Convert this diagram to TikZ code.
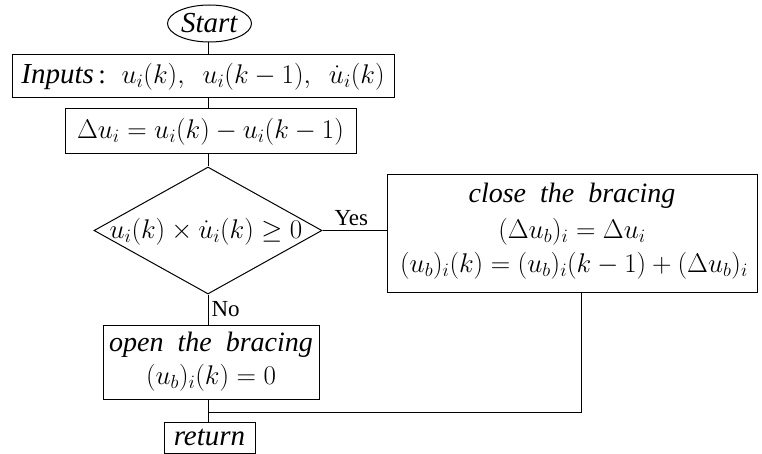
\RequirePackage{fix-cm}
\documentclass[tikz,border=0pt]{standalone}
\usepackage{fontspec}
\setmainfont{Liberation Serif}
\usetikzlibrary{shapes.geometric}
\newcommand{\tx}[1]{{\fontsize{29}{34}\selectfont\textit{#1}}}
\newcommand{\txs}[1]{{\fontsize{28}{33}\selectfont\textit{#1}}}
\begin{document}
\begin{tikzpicture}[x=1pt,y=-1pt,
  every node/.style={font=\fontsize{27}{32}\selectfont},
  box/.style={draw,line width=1pt,inner sep=0pt,align=center},
  ln/.style={line width=1pt},
  lbl/.style={font=\fontsize{23}{27}\selectfont,inner sep=0pt}]
\useasboundingbox (0,0) rectangle (762,454);
\coordinate (ax) at (208,0);
\node[box,ellipse,minimum width=84pt,minimum height=37pt] (start) at (209.5,23.5) {\tx{Start}};
\node[box,minimum width=382pt,minimum height=43pt] (inputs) at (203,76.5)
  {\tx{Inputs}\,: \ $u_i(k),\ \ u_i(k-1),\ \ \dot u_i(k)$};
\node[box,minimum width=291pt,minimum height=45pt] (delta) at (210.5,131.5)
  {$\Delta u_i = u_i(k) - u_i(k-1)$};
\node[draw,line width=1pt,diamond,minimum width=228pt,minimum height=127pt,inner sep=0pt] (dec) at (208,230.5) {};
\node[inner sep=0pt] (dectext) at (206,232) {$u_i(k)\times\dot u_i(k)\geq 0$};
\node[box,minimum width=370pt,minimum height=117pt] (close) at (572,233.5) {};
\node[inner sep=0pt] (c1) at (572,196) {\txs{close\ \ the\ \ bracing}};
\node[inner sep=0pt] (c2) at (572,232) {$(\Delta u_b)_i = \Delta u_i$};
\node[inner sep=0pt] (c3) at (574,266) {$(u_b)_i(k) = (u_b)_i(k-1) + (\Delta u_b)_i$};
\node[box,minimum width=216pt,minimum height=74pt] (open) at (211,362) {};
\node[inner sep=0pt] (o1) at (211,345) {\txs{open\ \ the\ \ bracing}};
\node[inner sep=0pt] (o2) at (211,378) {$(u_b)_i(k) = 0$};
\node[box,minimum width=91pt,minimum height=31pt] (ret) at (209.5,437.5) {\tx{return}};
\coordinate (join) at (208,412);
\coordinate (cx) at (581,0);
\draw[ln] (ax |- start.south) -- (ax |- inputs.north);
\draw[ln] (ax |- inputs.south) -- (ax |- delta.north);
\draw[ln] (ax |- delta.south) -- (dec.north);
\draw[ln] (dec.east) -- (close.west |- dec.east) node[lbl,pos=0.45,above=4pt] (yes) {Yes};
\draw[ln] (dec.south) -- (ax |- open.north) node[lbl,pos=0.5,right=3pt] (no) {No};
\draw[ln] (ax |- open.south) -- (ax |- ret.north);
\draw[ln] (cx |- close.south) -- (cx |- join) -- (join);
\end{tikzpicture}
\end{document}
